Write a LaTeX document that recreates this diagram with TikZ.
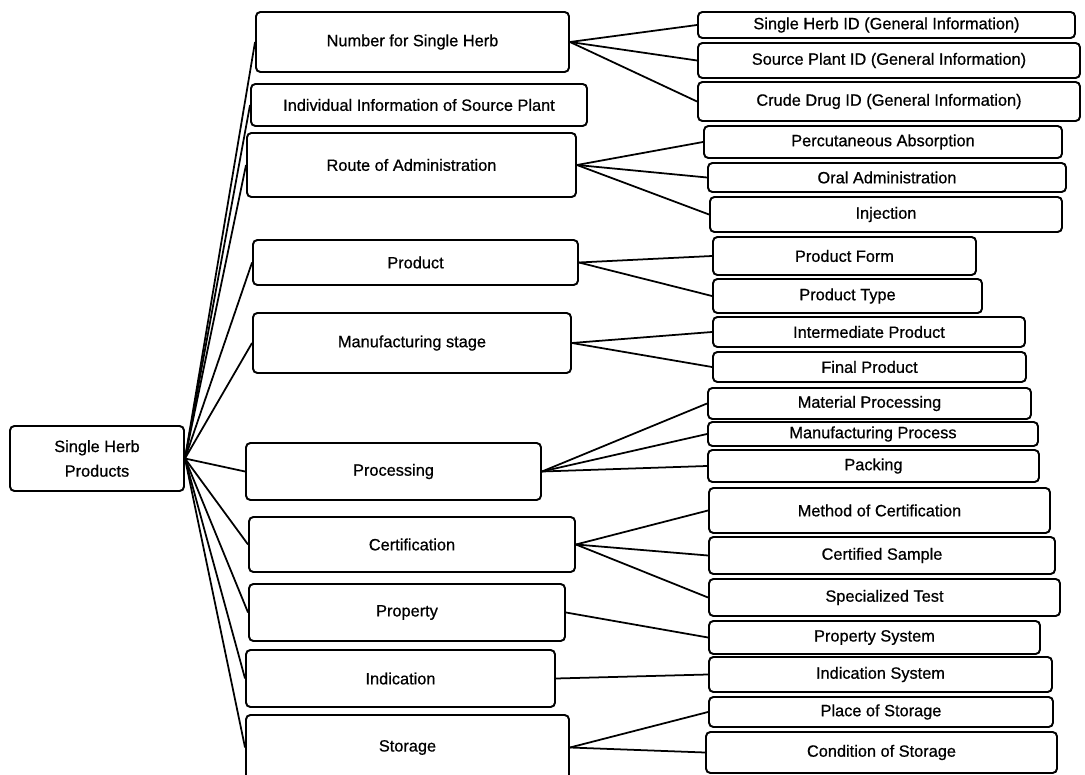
\documentclass[tikz,border=0pt]{standalone}
\usepackage{fontspec}
\setmainfont{Liberation Sans}[FakeBold=0.7]
\usepackage{tikz}
\usetikzlibrary{positioning}

\begin{document}
\begin{tikzpicture}[
  x=0.2mm,y=-0.2mm,
  font=\fontsize{9.3}{14}\selectfont,
  box/.style={draw,rounded corners=2.5pt,line width=1.1pt,align=center,inner sep=2pt},
  boxsize/.style 2 args={minimum width=#1*0.2mm,minimum height=#2*0.2mm},
  link/.style={line width=1pt}
]
  \useasboundingbox (0,0) rectangle (1085,775);

  % root
  \node[box,boxsize={174}{65}] (herb) at (97,458.5) {Single Herb\\Products};

  % first level
  \node[box,boxsize={313}{60}] (number) at (412.5,42) {Number for Single Herb};
  \node[box,boxsize={336}{42}] (indiv) at (419,105) {Individual Information of Source Plant};
  \node[box,boxsize={329}{64}] (route) at (411.5,165) {Route of Administration};
  \node[box,boxsize={325}{45}] (product) at (415.5,262.5) {Product};
  \node[box,boxsize={318}{60}] (manuf) at (412,343) {Manufacturing stage};
  \node[box,boxsize={295}{57}] (process) at (393.5,471.5) {Processing};
  \node[box,boxsize={326}{55}] (certif) at (412,544.5) {Certification};
  \node[box,boxsize={316}{57}] (property) at (407,612.5) {Property};
  \node[box,boxsize={309}{57}] (indic) at (400.5,678.5) {Indication};
  \node[box,boxsize={323}{65}] (storage) at (407.5,747.5) {Storage};

  % second level
  \node[box,boxsize={377}{26}] (herbid) at (886.5,25) {Single Herb ID (General Information)};
  \node[box,boxsize={382}{35}] (plantid) at (889,60.5) {Source Plant ID (General Information)};
  \node[box,boxsize={382}{39}] (drugid) at (889,101.5) {Crude Drug ID (General Information)};
  \node[box,boxsize={358}{32}] (percut) at (883,142) {Percutaneous Absorption};
  \node[box,boxsize={358}{29}] (oral) at (887,177.5) {Oral Administration};
  \node[box,boxsize={352}{35}] (inject) at (886,214.5) {Injection};
  \node[box,boxsize={263}{38}] (pform) at (844.5,256) {Product Form};
  \node[box,boxsize={269}{34}] (ptype) at (847.5,296) {Product Type};
  \node[box,boxsize={312}{30}] (interm) at (869,332) {Intermediate Product};
  \node[box,boxsize={313}{30}] (final) at (869.5,367) {Final Product};
  \node[box,boxsize={323}{31}] (material) at (869.5,403.5) {Material Processing};
  \node[box,boxsize={330}{24}] (mprocess) at (873,434) {Manufacturing Process};
  \node[box,boxsize={331}{32}] (packing) at (873.5,466) {Packing};
  \node[box,boxsize={341}{45}] (method) at (879.5,510.5) {Method of Certification};
  \node[box,boxsize={346}{37}] (sample) at (882,555.5) {Certified Sample};
  \node[box,boxsize={351}{37}] (spectest) at (884.5,597.5) {Specialized Test};
  \node[box,boxsize={331}{33}] (propsys) at (874.5,637.5) {Property System};
  \node[box,boxsize={343}{35}] (indsys) at (880.5,674.5) {Indication System};
  \node[box,boxsize={344}{30}] (place) at (881,712) {Place of Storage};
  \node[box,boxsize={351}{41}] (cond) at (881.5,752.5) {Condition of Storage};

  % root to first level
  \draw[link] (herb.east) -- (number.west);
  \draw[link] (herb.east) -- (indiv.west);
  \draw[link] (herb.east) -- (route.west);
  \draw[link] (herb.east) -- (product.west);
  \draw[link] (herb.east) -- (manuf.west);
  \draw[link] (herb.east) -- (process.west);
  \draw[link] (herb.east) -- (certif.west);
  \draw[link] (herb.east) -- (property.west);
  \draw[link] (herb.east) -- (indic.west);
  \draw[link] (herb.east) -- (storage.west);

  % first level to second level
  \draw[link] (number.east) -- (herbid.west);
  \draw[link] (number.east) -- (plantid.west);
  \draw[link] (number.east) -- (drugid.west);
  \draw[link] (route.east) -- (percut.west);
  \draw[link] (route.east) -- (oral.west);
  \draw[link] (route.east) -- (inject.west);
  \draw[link] (product.east) -- (pform.west);
  \draw[link] (product.east) -- (ptype.west);
  \draw[link] (manuf.east) -- (interm.west);
  \draw[link] (manuf.east) -- (final.west);
  \draw[link] (process.east) -- (material.west);
  \draw[link] (process.east) -- (mprocess.west);
  \draw[link] (process.east) -- (packing.west);
  \draw[link] (certif.east) -- (method.west);
  \draw[link] (certif.east) -- (sample.west);
  \draw[link] (certif.east) -- (spectest.west);
  \draw[link] (property.east) -- (propsys.west);
  \draw[link] (indic.east) -- (indsys.west);
  \draw[link] (storage.east) -- (place.west);
  \draw[link] (storage.east) -- (cond.west);
\end{tikzpicture}
\end{document}
